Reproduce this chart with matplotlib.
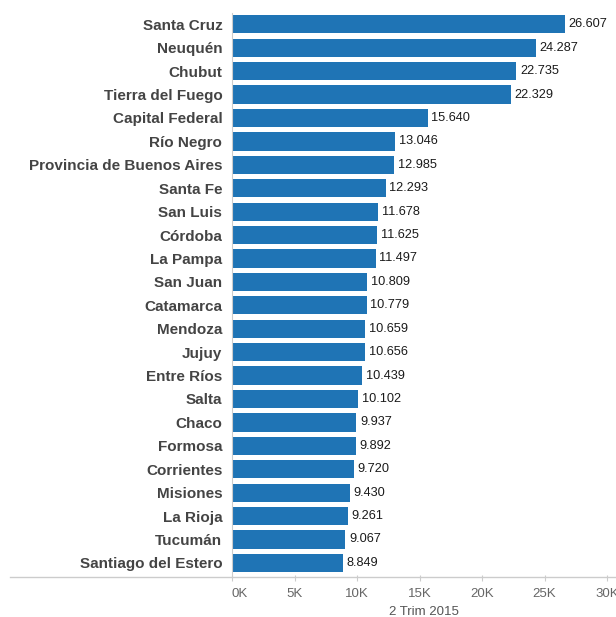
import numpy as np
import matplotlib.pyplot as plt
from matplotlib.lines import Line2D
from matplotlib.ticker import FuncFormatter

provincias = ['Santa Cruz', 'Neuquén', 'Chubut', 'Tierra del Fuego', 'Capital Federal',
              'Río Negro', 'Provincia de Buenos Aires', 'Santa Fe', 'San Luis', 'Córdoba',
              'La Pampa', 'San Juan', 'Catamarca', 'Mendoza', 'Jujuy', 'Entre Ríos',
              'Salta', 'Chaco', 'Formosa', 'Corrientes', 'Misiones', 'La Rioja',
              'Tucumán', 'Santiago del Estero']
valores = [26607, 24287, 22735, 22329, 15640, 13046, 12985, 12293, 11678, 11625,
           11497, 10809, 10779, 10659, 10656, 10439, 10102, 9937, 9892, 9720,
           9430, 9261, 9067, 8849]
ticks_x = [0, 5000, 10000, 15000, 20000, 25000, 30000]

plt.rcParams['font.family'] = ['Liberation Sans', 'DejaVu Sans']

fig = plt.figure(figsize=(6.16, 6.17), dpi=100)
ax = fig.add_axes([232/616, 1 - 574.6/617, 384/616, 562/617])

y = np.arange(len(provincias))
ax.barh(y, valores, height=0.78, color='#1f74b5')
for yi, v in zip(y, valores):
    txt = f'{v/1000:.3f}'
    ax.text(v + 300, yi, txt, va='center', ha='left', fontsize=9.2, color='#1a1a1a')

ax.set_ylim(len(provincias) - 0.5, -0.5)
ax.set_xlim(0, 30720)
ax.set_yticks(y)
ax.set_yticklabels(provincias, fontsize=11, fontweight='bold', color='#444444')
ax.tick_params(axis='y', length=0, pad=7)
ax.set_xticks(ticks_x)
ax.xaxis.set_major_formatter(FuncFormatter(lambda v, p: f'{int(v/1000)}K'))
ax.tick_params(axis='x', length=4, color='#cccccc', labelsize=9.5, labelcolor='#666666', pad=6)
ax.get_xticklabels()[0].set_horizontalalignment('left')
ax.set_xlabel('2 Trim 2015', fontsize=9.5, color='#555555', labelpad=4)

for s in ['top', 'right', 'bottom']:
    ax.spines[s].set_visible(False)
ax.spines['left'].set_color('#cccccc')

# long baseline that runs under the labels too
fig.add_artist(Line2D([10/616, 1], [1 - 577/617, 1 - 577/617], color='#cccccc', lw=1))

fig.savefig('out.png', dpi=100)
